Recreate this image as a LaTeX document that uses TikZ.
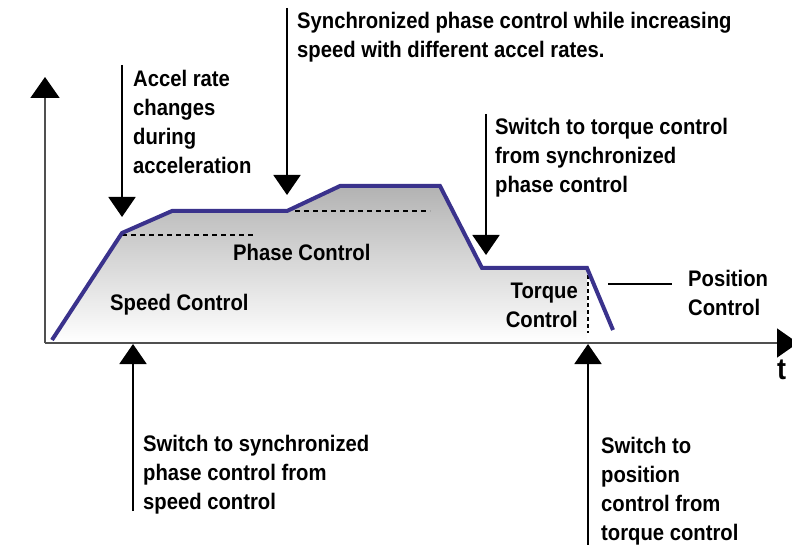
\documentclass[tikz,border=0pt]{standalone}
\usepackage{fontspec}
\setmainfont[FakeStretch=0.9]{Liberation Sans}
\usepackage{tikz}
\usetikzlibrary{arrows.meta,positioning,calc}
\definecolor{CurveNavy}{RGB}{58, 50, 140}
\definecolor{AxisGray}{RGB}{80, 80, 80}

\begin{document}
\begin{tikzpicture}[x=1pt, y=-1pt]
  \tikzstyle{lbl} = [inner sep=0pt, anchor=north west, align=left, font=\fontsize{22.5}{29}\selectfont\bfseries]
  \tikzstyle{callout} = [line width=2pt, -{Triangle[width=27pt, length=20pt]}]
  \tikzstyle{axis} = [line width=1.5pt, draw=AxisGray, -{Triangle[width=29pt, length=21pt, color=black]}]
  \tikzstyle{curve} = [line width=4pt, draw=CurveNavy, line join=miter]
  \tikzstyle{level} = [line width=2pt, dash pattern=on 5pt off 4pt]

  \useasboundingbox (0,0) rectangle (792,545);

  % shaded area under the profile
  \shade[top color=gray!60, bottom color=white] (52,343) -- (122,233) -- (172,211) -- (287,211) -- (340,186) -- (440,186) -- (482,268) -- (587,268) -- (587,343) -- cycle;

  \coordinate (origin) at (45,343);
  \coordinate (yend) at (45,77);
  \coordinate (xend) at (798,343);
  \draw[axis] (origin) -- (yend);
  \draw[axis] (origin) -- (xend);

  \draw[level] (122,235) -- (256,235);
  \draw[level] (295,211) -- (430,211);
  \draw[line width=2pt, dash pattern=on 4pt off 3pt] (588,268) -- (588,333);

  \draw[curve] (52,340) -- (122,233) -- (172,211) -- (287,211) -- (340,186) -- (440,186) -- (482,268) -- (587,268) -- (613,330);

  \node[lbl] (accel) at (133,70) {Accel rate\\changes\\during\\acceleration};
  \node[lbl] (sync) at (297,12) {Synchronized phase control while increasing\\speed with different accel rates.};
  \node[lbl] (totorque) at (495,118) {Switch to torque control\\from synchronized\\phase control};
  \node[lbl] (phase) at (233,244) {Phase Control};
  \node[lbl] (speed) at (110,294) {Speed Control};
  \node[lbl, anchor=north east, align=right] (torque) at (578,283) {Torque\\Control};
  \node[lbl] (position) at (688,270) {Position\\Control};
  \node[lbl, font=\fontsize{30}{30}\selectfont\bfseries] (tlabel) at (777,360) {t};
  \node[lbl] (tosync) at (143,435) {Switch to synchronized\\phase control from\\speed control};
  \node[lbl] (toposition) at (601,437) {Switch to\\position\\control from\\torque control};

  \coordinate (accel-top) at (122,65);
  \coordinate (accel-tip) at (122,217);
  \coordinate (sync-top) at (287,8);
  \coordinate (sync-tip) at (287,195);
  \coordinate (totorque-top) at (486,114);
  \coordinate (totorque-tip) at (486,255);
  \coordinate (tosync-bot) at (133,511);
  \coordinate (tosync-tip) at (133,344);
  \coordinate (toposition-bot) at (588,545);
  \coordinate (toposition-tip) at (588,344);
  \coordinate (position-ptr) at (608,284);

  \draw[callout] (accel-top) -- (accel-tip);
  \draw[callout] (sync-top) -- (sync-tip);
  \draw[callout] (totorque-top) -- (totorque-tip);
  \draw[callout] (tosync-bot) -- (tosync-tip);
  \draw[callout] (toposition-bot) -- (toposition-tip);
  \draw[line width=2pt] (position-ptr) -- ($(position-ptr -| position.west) + (-16,0)$);
\end{tikzpicture}
\end{document}
